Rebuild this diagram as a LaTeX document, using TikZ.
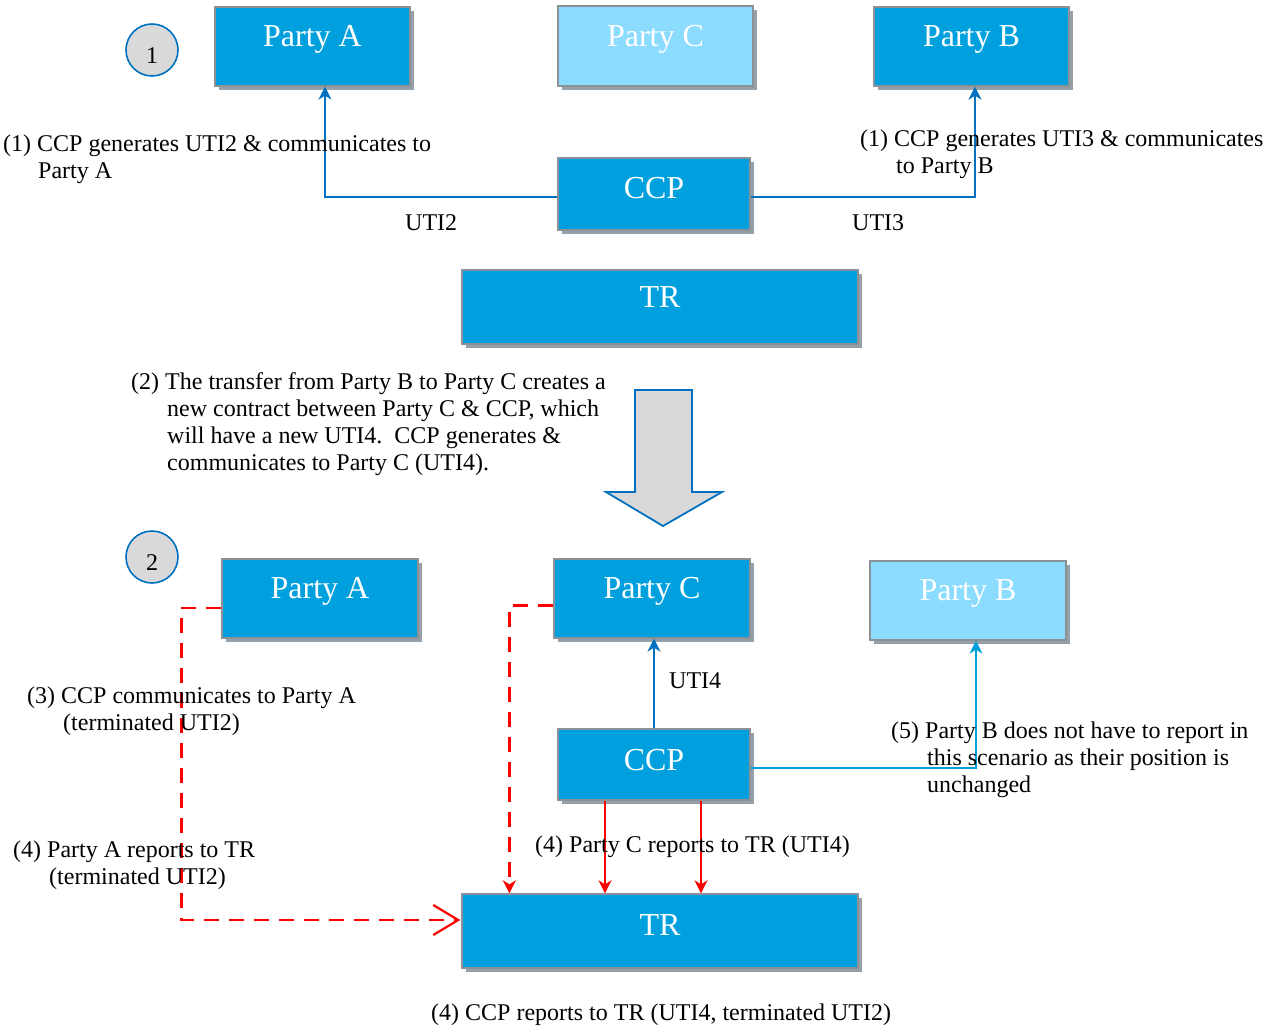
\documentclass[tikz,border=0pt]{standalone}
\usepackage{fontspec}
\setmainfont{Liberation Serif}
\usetikzlibrary{arrows.meta,shadows,calc}
\definecolor{boxblue}{RGB}{0,160,222}
\definecolor{lightbox}{RGB}{140,220,255}
\definecolor{bordergray}{RGB}{140,145,150}
\definecolor{shadowgray}{RGB}{150,160,168}
\definecolor{arrowblue}{RGB}{0,112,192}
\definecolor{lineblue}{RGB}{0,160,220}
\definecolor{circlegray}{RGB}{217,217,217}
\definecolor{redline}{RGB}{255,0,0}
\newcommand{\firstline}[1]{\hbox{#1}}
\newcommand{\nextline}[1]{\hbox{\hspace*{36pt}#1}}
\begin{document}
\begin{tikzpicture}[x=1pt,y=-1pt,
  box/.style={rectangle, draw=bordergray, line width=1.3pt, fill=boxblue, text=white,
    font=\fontsize{32}{36}\selectfont, inner sep=0pt, text height=20pt, text depth=20pt,
    general shadow={fill=shadowgray, shadow xshift=4pt, shadow yshift=-4pt}},
  lightbox/.style={box, fill=lightbox},
  stepcircle/.style={circle, draw=arrowblue, line width=1.6pt, fill=circlegray, minimum size=52pt,
    inner sep=0pt, text height=26pt, text depth=0pt, font=\fontsize{24}{28}\selectfont},
  lbl/.style={font=\fontsize{24}{27}\selectfont, inner sep=0pt, anchor=base west},
  bluearrow/.style={draw=arrowblue, line width=2pt, -{Stealth[length=13pt,width=13pt,inset=4pt]}},
  lightarrow/.style={draw=lineblue, line width=2pt, -{Stealth[length=13pt,width=13pt,inset=4pt]}},
  redarrow/.style={draw=redline, line width=2.4pt, -{Stealth[length=13pt,width=13pt,inset=4pt]}},
  reddash/.style={draw=redline, line width=2.4pt, dash pattern=on 15pt off 10pt},
]
\useasboundingbox (0,0) rectangle (1267,1036);

% ---------- scenario 1 ----------
\node[stepcircle] (c1) at (152,50) {1};
\node[box, minimum width=195pt, minimum height=79pt] (pa1) at (312.5,46.5) {Party A};
\node[lightbox, minimum width=195pt, minimum height=80pt] (pc1) at (655.5,46) {Party C};
\node[box, minimum width=195pt, minimum height=79pt] (pb1) at (971.5,46.5) {Party B};
\node[box, minimum width=192pt, minimum height=72pt, text height=29pt] (ccp1) at (654,194) {CCP};
\node[box, minimum width=396pt, minimum height=74pt] (tr1) at (660,307) {TR};

\draw[bluearrow] ($(ccp1.west)+(0,3)$) -| ($(pa1.south)+(12.5,0)$);
\draw[bluearrow] ($(ccp1.east)+(0,3)$) -| ($(pb1.south)+(3.5,0)$);

\node[lbl] (t1a) at (3,151.7) {\vtop{\firstline{(1) CCP generates UTI2 \& communicates to}\hbox{\hspace*{35pt}Party A}}};
\node[lbl] (t1b) at (860,146.7) {\vtop{\firstline{(1) CCP generates UTI3 \& communicates}\nextline{to Party B}}};
\node[lbl] (u2) at (405,230) {UTI2};
\node[lbl] (u3) at (852,230) {UTI3};

% ---------- transition ----------
\node[lbl] (t2) at (131,389) {\vtop{\firstline{(2) The transfer from Party B to Party C creates a}
\nextline{new contract between Party C \& CCP, which}
\nextline{will have a new UTI4.\ \ CCP generates \&}
\nextline{communicates to Party C (UTI4).}}};
\draw[draw=arrowblue, line width=1.8pt, fill=circlegray, line join=miter]
  (635,390) -- (692,390) -- (692,492) -- (722,492) -- (663,526) -- (606,492) -- (635,492) -- cycle;

% ---------- scenario 2 ----------
\node[stepcircle] (c2) at (152,557) {2};
\node[box, minimum width=196pt, minimum height=79pt] (pa2) at (320,598.5) {Party A};
\node[box, minimum width=196pt, minimum height=79pt] (pc2) at (652,598.5) {Party C};
\node[lightbox, minimum width=196pt, minimum height=79pt] (pb2) at (968,600.5) {Party B};
\node[box, minimum width=192pt, minimum height=71pt, text height=31pt] (ccp2) at (654,764.5) {CCP};
\node[box, minimum width=396pt, minimum height=74pt, text height=28pt] (tr2) at (660,931) {TR};

\draw[bluearrow] (ccp2.north) -- (ccp2.north |- pc2.south);
\draw[lightarrow] ($(ccp2.east)+(0,3.5)$) -| ($(pb2.south)+(8,0)$);

\coordinate (r1) at ($(ccp2.south)+(-49,0)$);
\coordinate (r2) at ($(ccp2.south)+(47,0)$);
\draw[redarrow] (r1) -- (r1 |- tr2.north);
\draw[redarrow] (r2) -- (r2 |- tr2.north);

\coordinate (da) at ($(tr2.west)+(-1,-11)$);
\draw[reddash, -{Straight Barb[length=25pt,width=30pt,line width=2.2pt]}]
  ($(pa2.west)+(0,9.5)$) -| ($(da)+(-279,0)$) -- (da);
\coordinate (dc) at ($(tr2.north west)+(48,0)$);
\draw[reddash, -{Stealth[length=13pt,width=13pt,inset=4pt]}]
  ($(pc2.west)+(0,7)$) -| (dc);

\node[lbl] (t3) at (27,703) {\vtop{\firstline{(3) CCP communicates to Party A}\nextline{(terminated UTI2)}}};
\node[lbl] (t4a) at (13,857) {\vtop{\firstline{(4) Party A reports to TR}\nextline{(terminated UTI2)}}};
\node[lbl] (u4) at (669,688) {UTI4};
\node[lbl] (t4c) at (535,852) {(4) Party C reports to TR (UTI4)};
\node[lbl] (t5) at (891,738) {\vtop{\firstline{(5) Party B does not have to report in}
\nextline{this scenario as their position is}
\nextline{unchanged}}};
\node[lbl] (t4ccp) at (431,1020) {(4) CCP reports to TR (UTI4, terminated UTI2)};
\end{tikzpicture}
\end{document}
